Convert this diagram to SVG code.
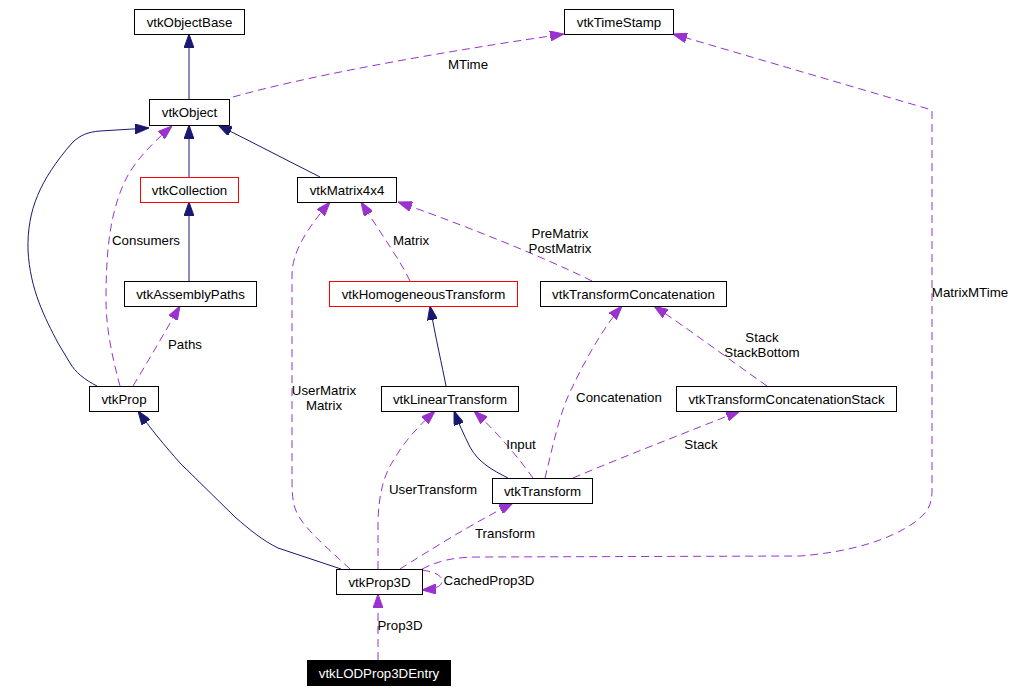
<svg xmlns="http://www.w3.org/2000/svg" width="1018" height="692" viewBox="0 0 1018 692">
<style>
text{font-family:"Liberation Sans",Arial,sans-serif;font-size:13.3px;fill:#000;text-anchor:middle}
.box{fill:#fff;stroke:#000;stroke-width:1}
.red{fill:#fff;stroke:#ff0000;stroke-width:1}
.inh{fill:none;stroke:#191970;stroke-width:1;marker-end:url(#an)}
.use{fill:none;stroke:#9a32cd;stroke-width:1;stroke-dasharray:8,5;marker-end:url(#ap)}
</style>
<defs>
<marker id="an" markerUnits="userSpaceOnUse" markerWidth="14" markerHeight="10" refX="14" refY="5" orient="auto"><path d="M0,0 L14,5 L0,10 z" fill="#191970" stroke="#191970"/></marker>
<marker id="ap" markerUnits="userSpaceOnUse" markerWidth="14" markerHeight="10" refX="14" refY="5" orient="auto"><path d="M0,0 L14,5 L0,10 z" fill="#9a32cd" stroke="#9a32cd"/></marker>
</defs>
<rect width="1018" height="692" fill="#fff"/>
<g id="connectors">
<path class="inh" d="M189,99 L189,34"/>
<path class="inh" d="M189,177 L189,125"/>
<path class="inh" d="M189,281 L189,202"/>
<path class="inh" d="M320,177 L218,125"/>
<path class="inh" d="M97,386 C85,380 75,372 70,363 L58,343 C45,318 30,290 28,250 C27,210 40,180 72,143 C80,135 88,132 100,131 L149,128"/>
<path class="inh" d="M341,569 L278,548 C262,540 250,530 235,517 L180,463 C165,446 150,428 138,411"/>
<path class="inh" d="M446,386 C442,365 436,340 430,306"/>
<path class="inh" d="M508,478 C492,470 478,462 470,447 C464,435 458,422 454,411"/>
<path class="use" d="M233,97 C300,78 420,55 564,34"/>
<path class="use" d="M120,386 C113,360 106,330 106,300 C106,250 110,210 127,177 C135,162 150,145 172,126"/>
<path class="use" d="M133,386 C150,358 165,332 180,306"/>
<path class="use" d="M350,569 C330,550 305,530 297,513 C293,505 292,495 292,480 L292,275 C292,250 310,225 330,202"/>
<path class="use" d="M410,281 C400,260 385,240 361,202"/>
<path class="use" d="M592,281 C540,255 450,220 398,202"/>
<path class="use" d="M533,478 C520,460 500,435 474,411"/>
<path class="use" d="M545,478 C552,450 560,410 572,388 C585,360 605,325 622,306"/>
<path class="use" d="M573,478 C620,458 680,435 740,411"/>
<path class="use" d="M767,386 C730,360 690,330 654,306"/>
<path class="use" d="M378,569 L378,520 C379,495 383,475 395,458 C405,440 420,425 435,411"/>
<path class="use" d="M400,569 C430,550 470,525 513,503"/>
<path class="use" d="M422,569 C440,560 455,557 480,557 L800,556 C850,552 890,540 915,522 C928,512 932,505 932,490 L932,110 L673,34"/>
<path class="use" d="M422,570 C436,572 442,576 442,581 C442,586 436,589 422,590"/>
<path class="use" d="M378,660 L378,594"/>
<text x="468" y="69">MTime</text>
<text x="146" y="245">Consumers</text>
<text x="411" y="245">Matrix</text>
<text x="560" y="238">PreMatrix</text>
<text x="560" y="253">PostMatrix</text>
<text x="970" y="297">MatrixMTime</text>
<text x="185" y="349">Paths</text>
<text x="324" y="395">UserMatrix</text>
<text x="324" y="410">Matrix</text>
<text x="433" y="494">UserTransform</text>
<text x="400" y="630">Prop3D</text>
<text x="619" y="402">Concatenation</text>
<text x="762" y="342">Stack</text>
<text x="762" y="357">StackBottom</text>
<text x="521" y="449">Input</text>
<text x="701" y="449">Stack</text>
<text x="505" y="538">Transform</text>
<text x="489" y="585">CachedProp3D</text>
</g>
<g id="vtkObjectBase"><rect class="box" x="134.5" y="9.5" width="110" height="25"/><text x="189.5" y="26.5">vtkObjectBase</text></g>
<g id="vtkTimeStamp"><rect class="box" x="564.5" y="9.5" width="109" height="25"/><text x="619" y="26.5">vtkTimeStamp</text></g>
<g id="vtkObject"><rect class="box" x="149.5" y="99.5" width="80" height="26"/><text x="189.5" y="117">vtkObject</text></g>
<g id="vtkCollection"><rect class="red" x="140.5" y="177.5" width="98" height="25"/><text x="189.5" y="194.5">vtkCollection</text></g>
<g id="vtkMatrix4x4"><rect class="box" x="297.5" y="177.5" width="99" height="25"/><text x="347" y="194.5">vtkMatrix4x4</text></g>
<g id="vtkAssemblyPaths"><rect class="box" x="124.5" y="281.5" width="132" height="25"/><text x="190.5" y="298.5">vtkAssemblyPaths</text></g>
<g id="vtkHomogeneousTransform"><rect class="red" x="329.5" y="281.5" width="188" height="25"/><text x="423.5" y="298.5">vtkHomogeneousTransform</text></g>
<g id="vtkTransformConcatenation"><rect class="box" x="540.5" y="281.5" width="186" height="25"/><text x="633.5" y="298.5">vtkTransformConcatenation</text></g>
<g id="vtkProp"><rect class="box" x="89.5" y="386.5" width="69" height="25"/><text x="124" y="403.5">vtkProp</text></g>
<g id="vtkLinearTransform"><rect class="box" x="381.5" y="386.5" width="137" height="25"/><text x="450" y="403.5">vtkLinearTransform</text></g>
<g id="vtkTransformConcatenationStack"><rect class="box" x="676.5" y="386.5" width="220" height="25"/><text x="786.5" y="403.5">vtkTransformConcatenationStack</text></g>
<g id="vtkTransform"><rect class="box" x="492.5" y="478.5" width="100" height="25"/><text x="542.5" y="495.5">vtkTransform</text></g>
<g id="vtkProp3D"><rect class="box" x="336.5" y="569.5" width="86" height="25"/><text x="379.5" y="586.5">vtkProp3D</text></g>
<g id="vtkLODProp3DEntry"><rect x="307.5" y="660.5" width="143" height="25" fill="#000" stroke="#000"/><text x="379" y="677.5" style="fill:#fff">vtkLODProp3DEntry</text></g>
</svg>
